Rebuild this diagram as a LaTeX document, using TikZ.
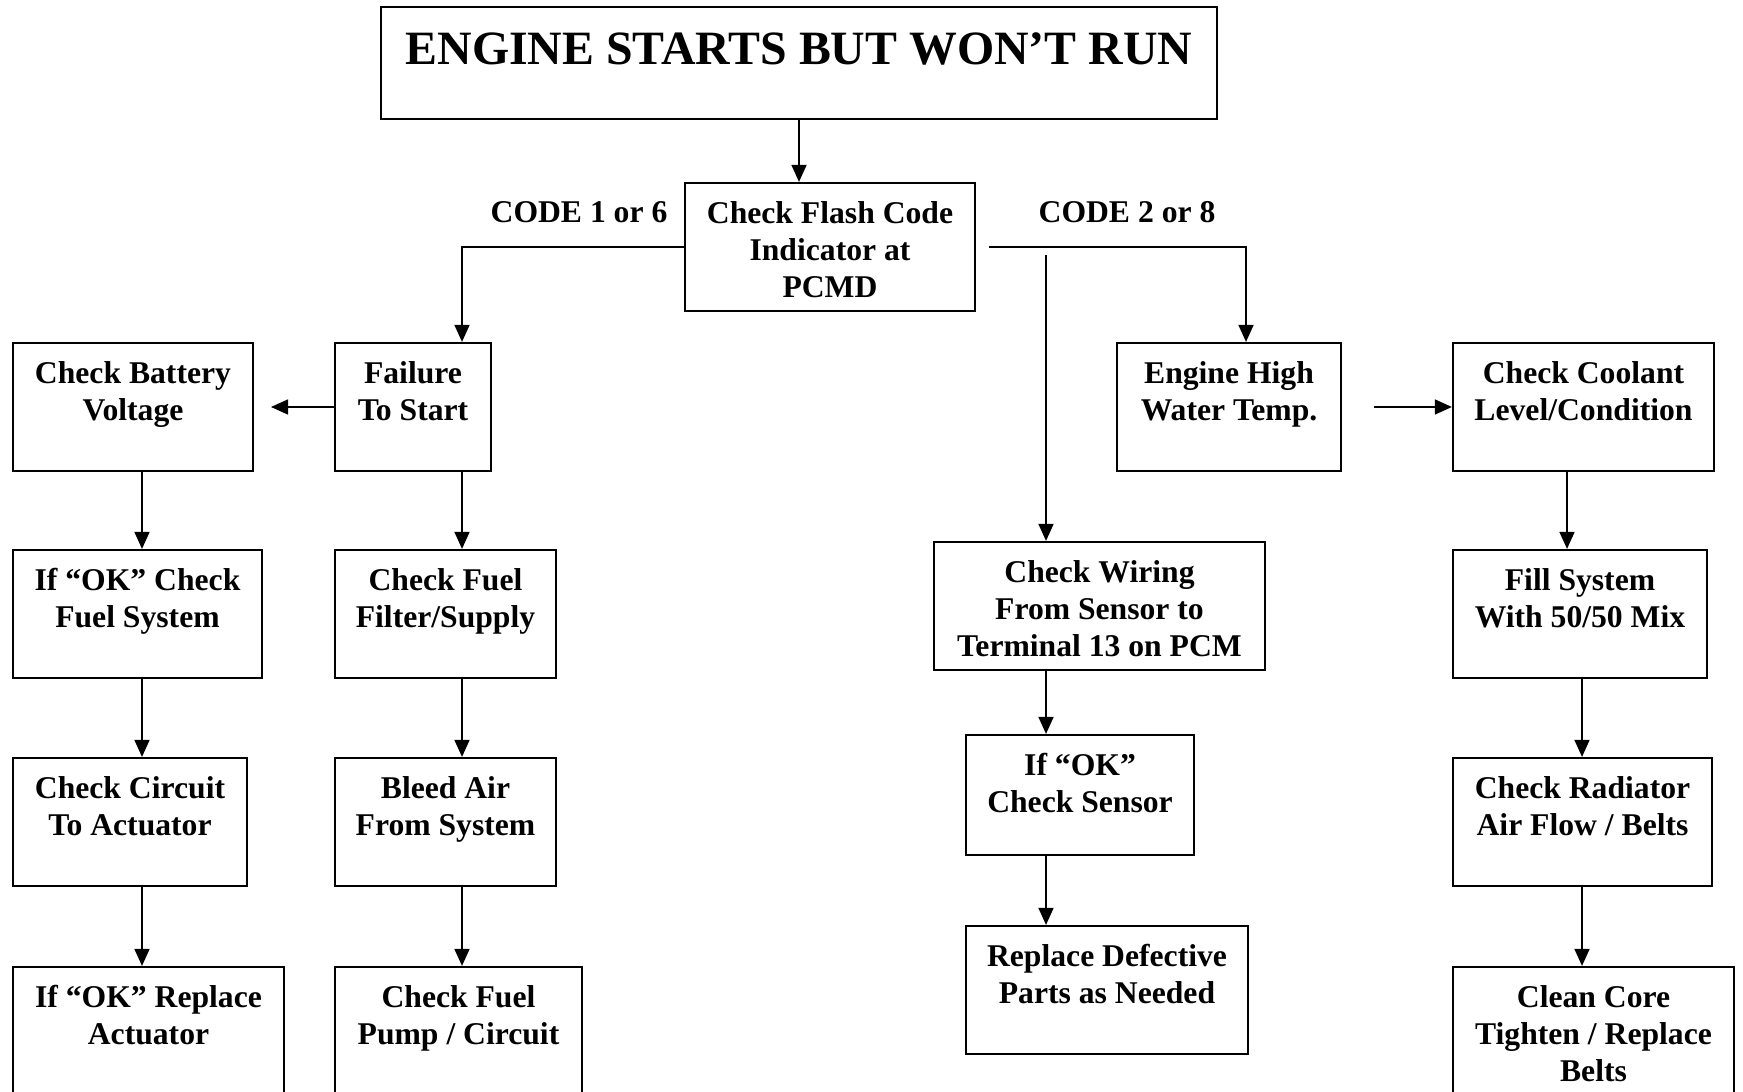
\documentclass[tikz,border=0pt]{standalone}
\usepackage{fontspec}
\setmainfont{Liberation Serif}
\usepackage{tikz}
\usetikzlibrary{arrows.meta}

\tikzset{
  chk/.style={draw, line width=0.6pt, inner sep=0pt, minimum height=1.28cm},
  chktxt/.style={anchor=north, align=center, inner sep=0pt, yshift=-0.185cm,
    font=\fontsize{9}{10.53}\selectfont\bfseries},
  codetxt/.style={anchor=base, inner sep=0pt, font=\fontsize{9}{10.53}\selectfont\bfseries},
  arr/.style={-{Triangle[length=0.17cm,width=0.15cm]}, line width=0.45pt},
}

\begin{document}
\begin{tikzpicture}[x=0.01cm, y=-0.01cm]
\useasboundingbox (0,0) rectangle (1743,1092);

% top
\node[chk, minimum width=8.36cm, minimum height=1.12cm,
  label={[chktxt, yshift=-0.075cm, font=\fontsize{13.6}{16}\selectfont\bfseries]north:ENGINE STARTS BUT WON’T RUN}] (title) at (799,63) {};
\node[chk, minimum width=2.90cm, label={[chktxt]north:Check Flash Code\\Indicator at\\PCMD}] (flash) at (830,247) {};
\node[codetxt] (c16) at (579,223) {CODE 1 or 6};
\node[codetxt] (c28) at (1127,223) {CODE 2 or 8};

% row 1
\node[chk, minimum width=2.40cm, label={[chktxt]north:Check Battery\\Voltage}] (bat) at (133,407) {};
\node[chk, minimum width=1.56cm, label={[chktxt]north:Failure\\To Start}] (fail) at (413,407) {};
\node[chk, minimum width=2.24cm, label={[chktxt]north:Engine High\\Water Temp.}] (hot) at (1229,407) {};
\node[chk, minimum width=2.61cm, label={[chktxt]north:Check Coolant\\Level/Condition}] (cool) at (1583.5,407) {};

% row 2
\node[chk, minimum width=2.49cm, label={[chktxt]north:If “OK” Check\\Fuel System}] (fuelsys) at (137.5,614) {};
\node[chk, minimum width=2.21cm, label={[chktxt]north:Check Fuel\\Filter/Supply}] (filter) at (445.5,614) {};
\node[chk, minimum width=3.31cm, label={[chktxt]north:Check Wiring\\From Sensor to\\Terminal 13 on PCM}] (wiring) at (1099.5,606) {};
\node[chk, minimum width=2.54cm, label={[chktxt]north:Fill System\\With 50/50 Mix}] (fill) at (1580,614) {};

% row 3
\node[chk, minimum width=2.34cm, label={[chktxt]north:Check Circuit\\To Actuator}] (circuit) at (130,822) {};
\node[chk, minimum width=2.21cm, label={[chktxt]north:Bleed Air\\From System}] (bleed) at (445.5,822) {};
\node[chk, minimum width=2.28cm, minimum height=1.20cm, label={[chktxt]north:If “OK”\\Check Sensor}] (sensor) at (1080,795) {};
\node[chk, minimum width=2.59cm, label={[chktxt]north:Check Radiator\\Air Flow / Belts}] (radiator) at (1582.5,822) {};

% row 4
\node[chk, minimum width=2.71cm, label={[chktxt]north:If “OK” Replace\\Actuator}] (actuator) at (148.5,1031) {};
\node[chk, minimum width=2.47cm, label={[chktxt]north:Check Fuel\\Pump / Circuit}] (pump) at (458.5,1031) {};
\node[chk, minimum width=2.82cm, label={[chktxt]north:Replace Defective\\Parts as Needed}] (replace) at (1107,990) {};
\node[chk, minimum width=2.81cm, label={[chktxt]north:Clean Core\\Tighten / Replace\\Belts}] (clean) at (1593.5,1031) {};

% columns and free ends
\coordinate (colA) at (142,0);
\coordinate (colB) at (462,0);
\coordinate (colH) at (1246,0);
\coordinate (colR) at (1567,0);
\coordinate (colS) at (1582,0);
\coordinate (rstart) at (989,247);
\coordinate (wstart) at (1046,255);
\coordinate (batend) at (271,407);
\coordinate (coolstart) at (1374,407);

% connectors
\draw[arr] (title.south) -- (title.south |- flash.north);
\draw[arr] (flash.west) -| (colB |- fail.north);
\draw[arr] (rstart) -| (colH |- hot.north);
\draw[arr] (wstart) -- (wstart |- wiring.north);
\draw[arr] (fail.west) -- (batend);
\draw[arr] (coolstart) -- (cool.west);

\draw[arr] (colA |- bat.south) -- (colA |- fuelsys.north);
\draw[arr] (colA |- fuelsys.south) -- (colA |- circuit.north);
\draw[arr] (colA |- circuit.south) -- (colA |- actuator.north);

\draw[arr] (colB |- fail.south) -- (colB |- filter.north);
\draw[arr] (colB |- filter.south) -- (colB |- bleed.north);
\draw[arr] (colB |- bleed.south) -- (colB |- pump.north);

\draw[arr] (wstart |- wiring.south) -- (wstart |- sensor.north);
\draw[arr] (wstart |- sensor.south) -- (wstart |- replace.north);

\draw[arr] (colR |- cool.south) -- (colR |- fill.north);
\draw[arr] (colS |- fill.south) -- (colS |- radiator.north);
\draw[arr] (colS |- radiator.south) -- (colS |- clean.north);
\end{tikzpicture}
\end{document}
